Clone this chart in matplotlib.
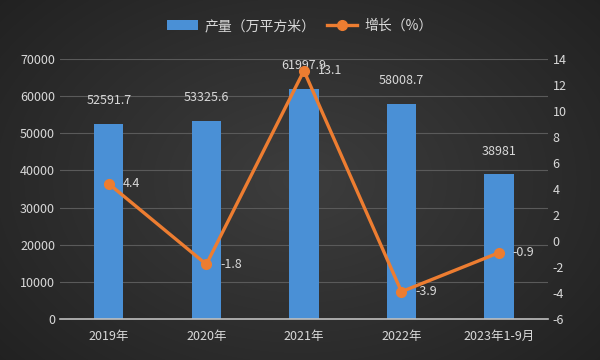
import numpy as np
import matplotlib
matplotlib.use("Agg")
import matplotlib.pyplot as plt
from matplotlib.lines import Line2D
from matplotlib.patches import Patch

plt.rcParams['font.family'] = ['Noto Sans CJK SC', 'DejaVu Sans']

categories = ['2019年', '2020年', '2021年', '2022年', '2023年1-9月']
production = [52591.7, 53325.6, 61997.9, 58008.7, 38981]
production_labels = ['52591.7', '53325.6', '61997.9', '58008.7', '38981']
growth = [4.4, -1.8, 13.1, -3.9, -0.9]
growth_labels = ['4.4', '-1.8', '13.1', '-3.9', '-0.9']
left_ticks = [0, 10000, 20000, 30000, 40000, 50000, 60000, 70000]
right_ticks = [-6, -4, -2, 0, 2, 4, 6, 8, 10, 12, 14]

txt = '#d9d9d9'
fig = plt.figure(figsize=(6, 3.6), dpi=100)

# background radial gradient
bg = fig.add_axes([0, 0, 1, 1])
yy, xx = np.mgrid[0:360, 0:600]
r = np.sqrt(((xx - 300) / 330) ** 2 + ((yy - 180) / 230) ** 2)
v = np.clip(0.24 - 0.09 * r, 0.12, 0.26)
img = np.dstack([v, v, v])
bg.imshow(img, aspect='auto', extent=[0, 1, 0, 1])
bg.axis('off')

ax = fig.add_axes([0.1, 0.114, 0.813, 0.722])
ax.patch.set_alpha(0)
x = np.arange(len(categories))
ax.bar(x, production, width=0.3, color='#4a90d6', zorder=2)
ax.set_ylim(0, 70000)
ax.set_xlim(-0.5, len(categories) - 0.5)
ax.set_yticks(left_ticks)
ax.set_yticklabels([str(t) for t in left_ticks])
ax.set_xticks(x)
ax.set_xticklabels(categories)
ax.grid(axis='y', color='#5a5a5a', linewidth=0.8, zorder=0)
for s in ['top', 'right', 'left']:
    ax.spines[s].set_visible(False)
ax.spines['bottom'].set_color('#bfbfbf')
ax.spines['bottom'].set_linewidth(1.2)
ax.tick_params(axis='both', length=0, colors=txt, labelsize=9)
ax.tick_params(axis='x', pad=8)
for xi, val, lab in zip(x, production, production_labels):
    ax.annotate(lab, (xi, val), xytext=(0, 12), textcoords='offset points',
                ha='center', va='bottom', color=txt, fontsize=9, zorder=5)

ax2 = ax.twinx()
ax2.set_ylim(-6, 14)
ax2.set_yticks(right_ticks)
ax2.set_yticklabels([str(t) for t in right_ticks])
for s in ['top', 'right', 'left', 'bottom']:
    ax2.spines[s].set_visible(False)
ax2.tick_params(axis='y', length=0, colors=txt, labelsize=9)
ax2.plot(x, growth, color='#ed7d31', linewidth=2.4, marker='o', markersize=7, zorder=4)
for xi, val, lab in zip(x, growth, growth_labels):
    ax2.annotate(lab, (xi, val), xytext=(10, 0), textcoords='offset points',
                 ha='left', va='center', color=txt, fontsize=9, zorder=5)

handles = [Patch(facecolor='#4a90d6', edgecolor='none'),
           Line2D([0], [0], color='#ed7d31', linewidth=2.4, marker='o', markersize=7)]
fig.legend(handles, ['产量（万平方米）', '增长（%）'], loc='center', bbox_to_anchor=(0.5, 0.928),
           ncol=2, frameon=False, fontsize=10, labelcolor=txt, handlelength=2.2,
           columnspacing=0.8, handletextpad=0.5)

fig.savefig('out.png', dpi=100)
